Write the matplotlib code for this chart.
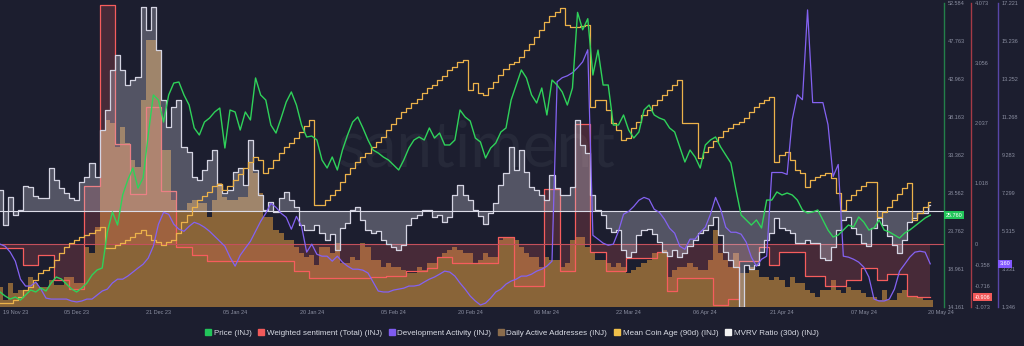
import numpy as np
import matplotlib.pyplot as plt
from matplotlib.lines import Line2D

plt.rcParams['font.family'] = ['Liberation Sans', 'DejaVu Sans']

# daily values, 20 Nov 23 .. 20 May 24
price = [16.06, 15.55, 15.17, 15.42, 15.04, 15.68, 16.31, 16.06, 16.56, 16.18,
         17.19, 17.95, 17.70, 17.07, 16.44, 16.06, 16.56, 17.19, 18.20, 18.84,
         19.09, 23.64, 26.17, 24.52, 28.32, 30.21, 31.73, 29.20, 30.47, 35.90,
         40.96, 40.32, 37.54, 40.96, 42.47, 42.60, 40.96, 39.69, 36.79, 35.90,
         37.54, 38.05, 38.81, 39.31, 34.26, 39.06, 38.81, 36.53, 38.81, 37.80,
         43.11, 40.96, 40.32, 37.16, 36.15, 38.05, 40.07, 41.34, 39.69, 37.16,
         35.65, 35.77, 35.27, 32.74, 31.73, 33.12, 31.48, 34.00, 35.90, 37.54,
         38.18, 36.79, 35.27, 34.00, 33.63, 33.12, 32.74, 32.11, 31.48, 32.74,
         34.26, 35.27, 35.65, 35.27, 36.79, 35.52, 36.15, 34.64, 34.64, 35.27,
         39.06, 38.18, 37.67, 35.52, 35.02, 32.99, 34.26, 34.89, 36.28, 36.79,
         40.32, 42.22, 44.12, 43.11, 40.96, 39.95, 41.84, 38.43, 42.85, 42.22,
         41.34, 39.69, 41.84, 51.40, 49.20, 50.60, 43.48, 46.64, 42.22, 42.22,
         37.16, 37.16, 38.43, 36.53, 35.52, 36.28, 39.06, 39.69, 38.43, 38.05,
         37.80, 36.79, 36.28, 34.38, 32.49, 34.00, 33.12, 31.73, 34.64, 35.27,
         35.65, 34.38, 33.37, 32.36, 28.95, 25.79, 25.16, 24.52, 25.16, 24.15,
         27.68, 27.68, 28.70, 28.32, 28.57, 28.32, 27.68, 26.42, 26.04, 26.17,
         26.42, 25.16, 23.89, 23.01, 23.26, 23.89, 24.52, 24.27, 25.54, 24.90,
         23.89, 24.15, 25.16, 23.89, 23.64, 23.26, 22.88, 23.51, 23.89, 24.40,
         24.90, 25.41, 25.76]

sentiment = [-0.08, -0.08, -0.08, -0.08, -0.08, -0.37, -0.37, -0.37, -0.20, -0.20,
             -0.20, -0.62, -0.62, -0.62, -0.76, -0.76, -0.76, 0.98, 0.98, 0.98,
             4.04, 4.04, 4.04, 1.68, 1.68, 1.68, 0.84, 0.84, 0.84, 2.32,
             2.32, 2.32, 0.89, 0.89, 0.89, -0.05, -0.05, -0.05, -0.20, -0.20,
             -0.20, -0.30, -0.30, -0.30, -0.30, -0.30, -0.30, -0.30, -0.30, -0.30,
             -0.30, -0.30, -0.30, -0.30, -0.30, -0.30, -0.30, -0.30, -0.47, -0.47,
             -0.47, -0.59, -0.59, -0.59, -0.59, -0.59, -0.59, -0.59, -0.59, -0.59,
             -0.59, -0.59, -0.59, -0.56, -0.56, -0.56, -0.54, -0.54, -0.54, -0.54,
             -0.47, -0.47, -0.47, -0.47, -0.42, -0.42, -0.22, -0.22, -0.22, -0.32,
             -0.32, -0.32, -0.32, -0.32, -0.32, -0.32, -0.32, -0.32, 0.12, 0.12,
             0.12, -0.72, -0.72, -0.72, -0.72, -0.72, -0.72, 0.93, 0.93, 0.93,
             -0.47, -0.47, -0.47, 2.02, 2.02, 2.02, -0.14, -0.14, -0.14, -0.46,
             -0.46, -0.46, -0.46, -0.25, -0.25, -0.25, -0.25, -0.25, -0.25, -0.14,
             -0.14, -0.81, -0.81, -0.59, -0.59, -0.59, -0.59, -0.59, -0.59, -0.59,
             -1.04, -1.04, -1.04, -0.93, -0.93, -0.29, -0.29, -0.29, -0.29, -0.05,
             -0.05, -0.37, -0.37, -0.14, -0.14, -0.14, -0.14, -0.14, -0.54, -0.54,
             -0.54, -0.54, -0.71, -0.71, -0.71, -0.71, -0.62, -0.62, -0.62, -0.42,
             -0.42, -0.42, -0.62, -0.62, -0.52, -0.52, -0.52, -0.52, -0.88, -0.88,
             -0.906, -0.906, -0.906]

dev_activity = [4.63, 4.52, 4.21, 3.74, 2.80, 2.44, 2.44, 2.65, 2.28, 1.81,
                1.76, 1.76, 1.76, 1.76, 1.66, 1.61, 1.66, 1.76, 1.76, 1.97,
                2.18, 2.28, 2.60, 2.80, 2.80, 2.96, 3.17, 3.38, 3.58, 3.90,
                4.52, 5.67, 6.29, 6.19, 5.67, 5.41, 5.30, 5.56, 5.77, 5.67,
                5.51, 5.30, 5.04, 4.78, 4.52, 3.95, 3.48, 4.05, 4.42, 4.78,
                5.30, 5.82, 6.24, 6.76, 6.55, 6.24, 6.03, 5.41, 6.08, 5.56,
                4.21, 4.63, 4.10, 4.00, 4.00, 3.74, 4.00, 3.69, 3.48, 3.32,
                3.32, 3.27, 3.12, 2.65, 2.18, 2.13, 2.13, 2.23, 2.28, 2.33,
                2.44, 2.44, 2.49, 2.65, 2.80, 2.91, 3.06, 3.22, 3.17, 2.96,
                2.60, 2.28, 1.92, 1.66, 1.45, 1.55, 1.81, 2.13, 2.28, 2.54,
                2.70, 2.80, 2.96, 2.96, 3.06, 3.22, 3.32, 3.48, 3.74, 13.11,
                13.32, 13.42, 13.58, 13.84, 14.15, 14.78, 5.09, 4.89, 4.68, 4.57,
                4.63, 5.30, 6.19, 6.34, 6.60, 6.92, 7.07, 6.97, 6.45, 6.29,
                5.93, 5.46, 5.20, 4.52, 4.36, 4.89, 4.89, 5.25, 5.51, 6.19,
                7.07, 6.45, 5.51, 5.25, 5.25, 5.15, 4.73, 3.95, 3.48, 3.84,
                4.00, 8.37, 8.37, 8.37, 8.27, 11.13, 12.43, 12.17, 16.86, 12.02,
                12.02, 12.02, 10.87, 8.16, 8.79, 4.00, 3.95, 3.84, 3.69, 3.43,
                2.91, 1.76, 1.66, 1.66, 1.76, 2.28, 3.22, 3.58, 3.95, 4.21,
                4.26, 4.21, 3.60]

active_addresses = [2000, 700, 2400, 1400, 1700, 1700, 3000, 2400, 2000, 2000,
                    2700, 2200, 2200, 3000, 3000, 2400, 2400, 6000, 5400, 8000,
                    17700, 18700, 18400, 16000, 18000, 16400, 14700, 14000, 20700, 26700,
                    26700, 25700, 15700, 15700, 10700, 9700, 9700, 10400, 10700, 10400,
                    10400, 9000, 10700, 12400, 11000, 10700, 10700, 11000, 11000, 14400,
                    13400, 11400, 9000, 9000, 7700, 7400, 6700, 6700, 6000, 5400,
                    5000, 5200, 4200, 6000, 6000, 5400, 6400, 4400, 4400, 5000,
                    4700, 6400, 6000, 4700, 4700, 4000, 4400, 4000, 4000, 3700,
                    3400, 3400, 4000, 3700, 4400, 4400, 5000, 5400, 5700, 6000,
                    5700, 5400, 5400, 4400, 4700, 5400, 5000, 5000, 6700, 7000,
                    7000, 6700, 6000, 5400, 5000, 5000, 4000, 5000, 4700, 4700,
                    4000, 4400, 6700, 7000, 7000, 6000, 5400, 4700, 4700, 4400,
                    4000, 4400, 4000, 3400, 3700, 4000, 4400, 4700, 5400, 5400,
                    5700, 3000, 3700, 4000, 4000, 4400, 4000, 3700, 3700, 4700,
                    7700, 5400, 4700, 4000, 5400, 3400, 3400, 4000, 3700, 3000,
                    3000, 2700, 3000, 2700, 2000, 3000, 2400, 2400, 1700, 1400,
                    1000, 1700, 1700, 2700, 1700, 1400, 2000, 1700, 1700, 1400,
                    1000, 1000, 700, 1700, 700, 700, 1400, 1700, 1000, 1000,
                    1000, 700, 700]

coin_age = [26.0, 26.0, 26.0, 26.75, 27.5, 29.25, 30.0, 31.75, 33.5, 34.25,
            35.0, 36.75, 38.5, 40.0, 41.0, 41.75, 42.5, 43.0, 43.5, 44.25,
            45.0, 39.75, 39.75, 40.5, 41.0, 41.75, 42.5, 43.5, 44.25, 43.0,
            41.75, 41.25, 40.5, 41.25, 41.75, 43.5, 46.25, 48.0, 50.0, 51.75,
            52.75, 53.75, 55.25, 55.75, 54.25, 55.25, 56.75, 58.25, 59.75, 61.25,
            62.5, 61.75, 58.5, 59.75, 61.75, 63.5, 65.0, 66.0, 67.25, 68.75,
            70.25, 71.75, 50.5, 50.5, 51.75, 53.0, 54.25, 56.25, 58.25, 59.75,
            61.25, 62.5, 63.5, 65.0, 66.25, 67.5, 69.25, 70.75, 72.25, 73.75,
            74.75, 76.0, 77.0, 78.5, 79.75, 80.5, 81.75, 82.75, 84.25, 85.0,
            86.25, 86.75, 79.25, 81.0, 78.5, 78.0, 79.75, 81.25, 83.0, 84.5,
            85.75, 86.25, 87.5, 89.25, 90.75, 92.5, 94.25, 96.25, 97.75, 98.75,
            99.75, 95.5, 95.0, 95.0, 95.25, 95.5, 75.0, 76.75, 76.75, 74.25,
            71.0, 69.25, 66.75, 67.25, 69.75, 71.25, 73.0, 74.25, 75.5, 76.75,
            78.0, 79.25, 80.5, 81.75, 71.0, 71.0, 71.0, 62.25, 63.75, 65.0,
            66.5, 67.5, 69.0, 69.75, 70.75, 71.25, 72.25, 73.75, 75.0, 76.0,
            76.75, 77.5, 61.25, 63.0, 63.75, 61.75, 59.25, 58.5, 55.0, 56.75,
            57.5, 58.0, 58.5, 57.25, 53.5, 49.25, 51.75, 53.0, 54.25, 55.25,
            56.25, 56.25, 47.5, 48.75, 50.0, 51.75, 53.25, 54.75, 56.0, 46.75,
            48.5, 50.0, 51.25]

mvrv = [5.25, -3.5, 3.5, -1.0, 0.25, 6.25, 6.0, 3.75, 3.25, 3.25,
        10.75, 7.75, 5.75, 4.5, 3.25, 2.75, 7.25, 8.5, 12.0, 8.5,
        20.25, 25.25, 35.25, 39.0, 35.25, 31.5, 32.75, 33.5, 51.0, 45.25,
        51.0, 40.25, 27.75, 21.0, 26.0, 27.75, 16.0, 14.75, 8.5, 7.75,
        10.25, 12.75, 15.25, 6.5, 4.5, 5.25, 9.75, 10.75, 6.5, 17.75,
        10.25, 4.0, 0.25, 2.25, -0.25, 3.25, 4.75, 2.75, 1.0, -3.5,
        -4.75, -4.75, -3.5, -5.5, -7.25, -5.75, -9.75, -4.25, -3.0, 0.25,
        1.0, -2.25, -4.75, -5.5, -5.0, -7.25, -8.25, -9.0, -9.75, -8.5,
        -3.5, -1.75, -1.0, 0.25, 0.25, -1.5, -1.0, -2.75, -1.5, 4.0,
        6.5, 4.0, 2.75, 0.25, -1.25, -3.25, -0.5, 2.0, 6.5, 9.5,
        16.0, 10.25, 15.25, 9.75, 6.0, 5.25, 4.0, 2.75, 9.0, 5.75,
        4.0, 4.0, 6.0, 22.75, 16.5, 14.5, 4.0, 0.25, -1.0, -4.25,
        -5.25, -4.75, -9.75, -11.5, -10.25, -6.0, -4.75, -4.5, -5.75, -7.75,
        -10.25, -11.25, -9.75, -11.5, -10.5, -8.75, -7.25, -5.5, -4.75, -3.5,
        -1.5, -6.0, -10.25, -12.25, -14.0, -24.0, -13.5, -14.5, -13.5, -10.25,
        -7.25, -5.5, -1.75, -4.25, -4.75, -5.5, -8.0, -8.0, -7.25, -8.0,
        -8.0, -11.75, -12.25, -9.0, -4.75, -2.25, -1.5, -4.25, -5.75, -8.0,
        -8.75, -4.25, -1.75, -3.5, -6.25, -8.5, -10.5, -7.25, -2.75, -1.75,
        -0.5, -0.5, 1.5]

tick_days = [3, 15, 31, 46, 61, 77, 92, 107, 123, 138, 153, 169, 184]
tick_labels = ['19 Nov 23', '05 Dec 23', '21 Dec 23', '05 Jan 24', '20 Jan 24', '05 Feb 24',
               '20 Feb 24', '06 Mar 24', '22 Mar 24', '06 Apr 24', '21 Apr 24', '07 May 24', '20 May 24']

price_ticks = [14.161, 18.961, 23.762, 28.562, 33.362, 38.163, 42.963, 47.763, 52.584]
sent_ticks = [-1.073, -0.716, -0.358, 0, 1.018, 2.037, 3.056, 4.073]
dev_ticks = [1.346, 3.331, 5.315, 7.299, 9.283, 11.268, 13.252, 15.236, 17.221]

bg = '#1c1e2f'
tick_col = '#8a8ea0'
c_price = '#2fd25a'
c_sent = '#f65d5d'
c_dev = '#8462f2'
c_daa = '#d3943f'
c_age = '#ecb24a'
c_mvrv = '#d4d4e2'

fig = plt.figure(figsize=(10.24, 3.46), dpi=100, facecolor=bg)
ax = fig.add_axes([0, 0.1127, 0.9219, 0.8786])
ax.set_facecolor(bg)

ax_s = ax.twinx()
ax_m = ax.twinx()
ax_a = ax.twinx()
ax_d = ax.twinx()
ax_p = ax.twinx()

for a in [ax, ax_s, ax_m, ax_a, ax_d, ax_p]:
    for sp in a.spines.values():
        sp.set_visible(False)
    a.set_xlim(0, 184.7)

# watermark
ax.text(0.505, 0.52, 'santiment', transform=ax.transAxes, ha='center', va='center',
        fontsize=46, color='#262939', zorder=0, family='Lato')

# daily active addresses (hidden scale)
x = np.arange(len(active_addresses))
ax.bar(x, active_addresses, width=1.0, color=c_daa, alpha=0.6, lw=0, zorder=1)
ax.set_ylim(0, 30400)
ax.set_yticks([])
ax.set_xticks(tick_days)
ax.set_xticklabels(tick_labels)
ax.tick_params(axis='x', length=0, pad=2.5, labelsize=4, labelcolor=tick_col)

# weighted sentiment
x = np.arange(len(sentiment))
ax_s.fill_between(x, sentiment, 0, step='mid', color=c_sent, alpha=0.2, lw=0)
ax_s.step(x, sentiment, where='mid', color=c_sent, lw=0.9)
ax_s.axhline(0, color='#c4505c', lw=0.8)
ax_s.set_ylim(-1.073, 4.073)

# mvrv (hidden scale)
x = np.arange(len(mvrv))
ax_m.fill_between(x, mvrv, 0, step='mid', color=c_mvrv, alpha=0.3, lw=0)
ax_m.step(x, mvrv, where='mid', color=c_mvrv, lw=0.9)
ax_m.axhline(0, color='#dcdce8', lw=0.8)
ax_m.set_ylim(-24, 52)
ax_m.set_yticks([])

# mean coin age (hidden scale)
x = np.arange(len(coin_age))
ax_a.step(x, coin_age, where='mid', color=c_age, lw=0.9)
ax_a.set_ylim(25, 101)
ax_a.set_yticks([])

# development activity
x = np.arange(len(dev_activity))
ax_d.plot(x, dev_activity, color=c_dev, lw=0.9)
ax_d.set_ylim(1.346, 17.221)

# price
x = np.arange(len(price))
ax_p.plot(x, price, color=c_price, lw=1.0)
ax_p.set_ylim(14.161, 52.584)

# visible right axes
for a, ticks, col, pos in [(ax_p, price_ticks, '#23804a', 1.0),
                           (ax_s, sent_ticks, '#a53a46', 1.0286),
                           (ax_d, dev_ticks, '#5846a8', 1.0572)]:
    a.spines['right'].set_visible(True)
    a.spines['right'].set_position(('axes', pos))
    a.spines['right'].set_color(col)
    a.spines['right'].set_linewidth(1.0)
    a.set_yticks(ticks)
    a.set_yticklabels([('%g' % t if t == 0 else '%.3f' % t) for t in ticks])
    a.tick_params(axis='y', length=0, pad=2.5, labelsize=4, labelcolor=tick_col)

# last-value badges
badge = dict(fontsize=4, color='white', ha='left', va='center', clip_on=False)
ax_p.text(1.002, price[-1], '%.3f' % price[-1], transform=ax_p.get_yaxis_transform(),
          bbox=dict(boxstyle='square,pad=0.3', fc='#22c55a', ec='none'), **badge)
ax_s.text(1.0325, sentiment[-1], '%.3f' % sentiment[-1], transform=ax_s.get_yaxis_transform(),
          bbox=dict(boxstyle='square,pad=0.3', fc='#f25a5a', ec='none'), **badge)
ax_d.text(1.0585, dev_activity[-1], '%.2f' % dev_activity[-1], transform=ax_d.get_yaxis_transform(),
          bbox=dict(boxstyle='square,pad=0.3', fc='#8358ff', ec='none'), **badge)

# legend
names = ['Price (INJ)', 'Weighted sentiment (Total) (INJ)', 'Development Activity (INJ)',
         'Daily Active Addresses (INJ)', 'Mean Coin Age (90d) (INJ)', 'MVRV Ratio (30d) (INJ)']
cols = ['#22c55a', '#f25a5a', '#7f5cf0', '#8b6c4c', '#f0c04a', '#f2f2f2']
handles = [Line2D([], [], marker='s', ls='none', markersize=4, color=c) for c in cols]
fig.legend(handles, names, loc='center', bbox_to_anchor=(0.5, 0.037), ncol=6, frameon=False,
           fontsize=5.8, labelcolor='#d8dbe4', handlelength=0.6, handletextpad=0.4,
           columnspacing=0.9)

fig.savefig('out.png', dpi=100, facecolor=bg)
